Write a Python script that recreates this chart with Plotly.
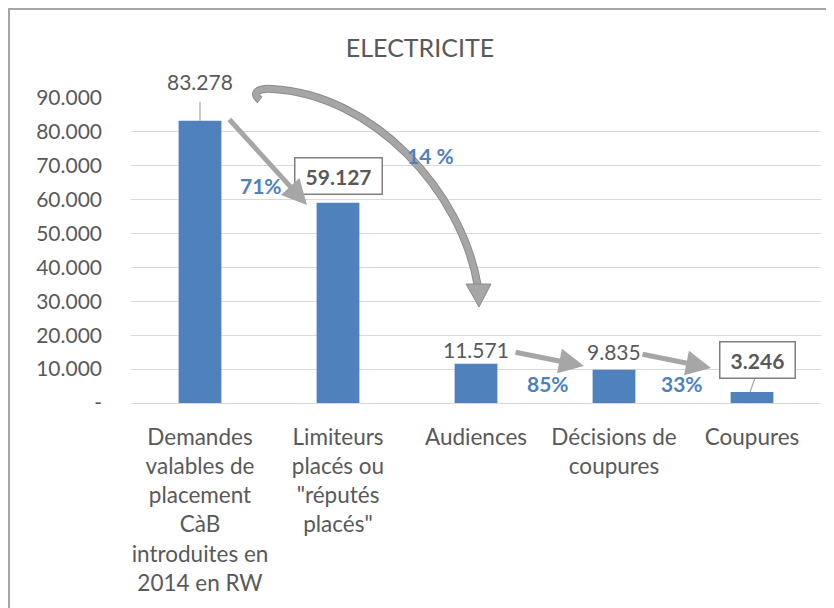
import plotly.graph_objects as go

categories = [
    'Demandes<br>valables de<br>placement<br>CàB<br>introduites en<br>2014 en RW',
    'Limiteurs<br>placés ou<br>"réputés<br>placés"',
    'Audiences',
    'Décisions de<br>coupures',
    'Coupures',
]
values = [83278, 59127, 11571, 9835, 3246]
value_labels = ['83.278', '59.127', '11.571', '9.835', '3.246']
boxed = [False, True, False, False, True]
pct_labels = ['71%', '14 %', '85%', '33%']

tick_vals = [0, 10000, 20000, 30000, 40000, 50000, 60000, 70000, 80000, 90000]
tick_text = ['-', '10.000', '20.000', '30.000', '40.000', '50.000',
             '60.000', '70.000', '80.000', '90.000']

W, H = 834, 608
OFF = 8  # page body margin: positions below are measured on the page
L, R, T, B = 131, 821, 98, 403
YMAX = 90000
per_px = YMAX / (B - T)

def px(x):
    return (x - L) / (R - L)

def py(y):
    return (B - y) / (B - T)

grey_txt = '#595959'
blue = '#4F81BD'
arrow_grey = '#A6A6A6'
font = 'Lato'

fig = go.Figure()
fig.add_trace(go.Bar(
    x=categories, y=values, width=0.31,
    marker=dict(color=blue, line=dict(width=0)),
    hoverinfo='skip',
))

annotations = []
shapes = []

# value labels (offset in pixels above bar top, x shift)
offsets = [39, 27, 14, 18, 32]
xshifts = [0, 0, 0, 0, 5]
for cat, v, lab, bx, off, xs in zip(categories, values, value_labels, boxed, offsets, xshifts):
    if bx:
        annotations.append(dict(
            x=cat, y=v, xref='x', yref='y', text='\u00a0' + lab + '\u00a0',
            showarrow=False, yshift=off, xshift=xs,
            xanchor='center', yanchor='middle',
            font=dict(family=font, size=21, color=grey_txt, weight='bold'),
            bordercolor='#7F7F7F', borderwidth=1.5, borderpad=5, bgcolor='white',
        ))
    else:
        annotations.append(dict(
            x=cat, y=v, xref='x', yref='y', text=lab,
            showarrow=False, yshift=off, xshift=xs,
            xanchor='center', yanchor='middle',
            font=dict(family=font, size=21, color=grey_txt),
        ))

# leader lines
shapes.append(dict(type='line', xref='x', yref='y',
                   x0=categories[0], x1=categories[0],
                   y0=values[0], y1=values[0] + 19 * per_px,
                   line=dict(color='#A6A6A6', width=1.2)))
shapes.append(dict(type='line', xref='paper', yref='y',
                   x0=px(750), x1=px(755),
                   y0=values[4], y1=values[4] + 14 * per_px,
                   line=dict(color='#A6A6A6', width=1.2)))

# percentage labels
pct_pos = [(261, 185), (430, 155), (548, 383), (682, 383)]
for lab, (x, y) in zip(pct_labels, pct_pos):
    annotations.append(dict(
        x=px(x), y=py(y), xref='paper', yref='paper', text=lab,
        showarrow=False, xanchor='center', yanchor='middle',
        font=dict(family=font, size=21, color=blue, weight='bold'),
    ))

# straight arrows: (tail, head)
arrows = [((228, 118), (307, 205)),
          ((514, 352), (584, 366)),
          ((641, 354), (711, 368))]
for (tx, ty), (hx, hy) in arrows:
    annotations.append(dict(
        x=px(hx), y=py(hy), xref='paper', yref='paper', text='',
        showarrow=True, ax=tx - hx, ay=ty - hy,
        arrowhead=2, arrowsize=1.0, arrowwidth=5, arrowcolor=arrow_grey,
        standoff=0,
    ))

# curved arrow
pts = [(260, 100), (251, 93), (258, 88), (272, 89),
       (372, 94), (462, 190), (478, 287)]
p = [(px(x), py(y)) for x, y in pts]
path = (f'M {p[0][0]},{p[0][1]} C {p[1][0]},{p[1][1]} {p[2][0]},{p[2][1]} {p[3][0]},{p[3][1]} '
        f'C {p[4][0]},{p[4][1]} {p[5][0]},{p[5][1]} {p[6][0]},{p[6][1]}')
shapes.append(dict(type='path', xref='paper', yref='paper', path=path,
                   line=dict(color='#8C8C8C', width=8)))
shapes.append(dict(type='path', xref='paper', yref='paper', path=path,
                   line=dict(color=arrow_grey, width=6)))
head = [(466, 284), (491, 284), (479, 307)]
h = [(px(x), py(y)) for x, y in head]
shapes.append(dict(type='path', xref='paper', yref='paper',
                   path=f'M {h[0][0]},{h[0][1]} L {h[1][0]},{h[1][1]} L {h[2][0]},{h[2][1]} Z',
                   fillcolor=arrow_grey, line=dict(color='#8C8C8C', width=1)))

# outer frame
shapes.append(dict(type='rect', xref='paper', yref='paper',
                   x0=px(9), x1=px(850), y0=py(9), y1=py(630),
                   line=dict(color='#A6A6A6', width=2), layer='below'))

fig.update_layout(
    width=W, height=H,
    margin=dict(l=L - OFF, r=W - (R - OFF), t=T - OFF, b=H - (B - OFF)),
    paper_bgcolor='white', plot_bgcolor='white',
    showlegend=False,
    title=dict(text='ELECTRICITE', x=(420 - OFF) / W, xanchor='center',
               y=1 - (48 - OFF) / H, yanchor='middle',
               font=dict(family=font, size=25, color=grey_txt)),
    font=dict(family=font, color=grey_txt),
    xaxis=dict(showgrid=False, showline=False, ticks='',
               tickfont=dict(family=font, size=22.5, color=grey_txt),
               ticklabelstandoff=18),
    yaxis=dict(range=[0, YMAX], tickvals=tick_vals, ticktext=tick_text,
               showgrid=True, gridcolor='#D9D9D9', gridwidth=1,
               zeroline=True, zerolinecolor='#D9D9D9', zerolinewidth=1,
               showline=False, ticks='',
               tickfont=dict(family=font, size=21, color=grey_txt),
               ticklabelstandoff=28),
    annotations=annotations,
    shapes=shapes,
)

fig.write_html('out.html')
